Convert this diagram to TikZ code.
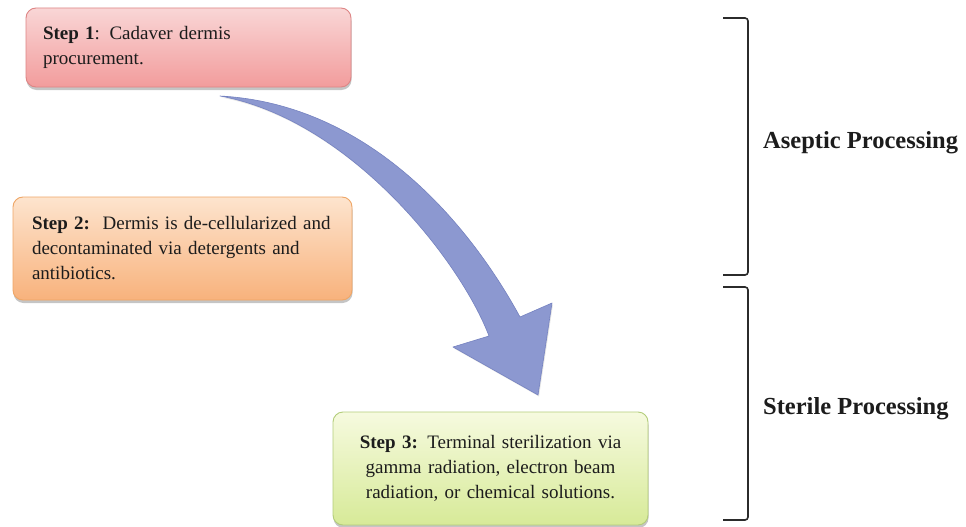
\documentclass[tikz,border=0pt]{standalone}
\usepackage{fontspec}
\setmainfont{Liberation Serif}
\usetikzlibrary{shadows}
\definecolor{pinkTop}{HTML}{F9D6D6}
\definecolor{pinkBot}{HTML}{F29C9C}
\definecolor{pinkEdge}{HTML}{DE8585}
\definecolor{orTop}{HTML}{FDE4CE}
\definecolor{orBot}{HTML}{F8B27C}
\definecolor{orEdge}{HTML}{EFA666}
\definecolor{grTop}{HTML}{F6FADF}
\definecolor{grBot}{HTML}{D7EA98}
\definecolor{grEdge}{HTML}{B3CD7A}
\definecolor{arrowBlue}{HTML}{8C98D0}
\definecolor{arrowEdge}{HTML}{7582C0}
\definecolor{inkDark}{HTML}{1C1C1C}
\definecolor{brackCol}{HTML}{2B2B2B}
\tikzset{
  stepbox/.style={draw, line width=0.9pt, rounded corners=10pt, inner xsep=17pt,
    inner ysep=4pt, text=inkDark, font=\fontsize{19}{25}\selectfont,
    drop shadow={shadow xshift=0.5pt, shadow yshift=-3pt, opacity=0.45}},
  phaselabel/.style={anchor=west, text=inkDark, inner sep=0pt,
    font=\fontsize{24.5}{28}\selectfont\bfseries},
  bracketline/.style={draw=brackCol, line width=1.6pt, rounded corners=3pt},
}
\begin{document}
\begin{tikzpicture}[x=1pt,y=-1pt]
\useasboundingbox (0,0) rectangle (966,527);
\fill[white] (0,0) rectangle (966,527);

% curved arrow
\coordinate (tail) at (220,96);
\coordinate (outerBase) at (520,317);
\coordinate (rightBarb) at (552,303);
\coordinate (tip) at (538,395);
\coordinate (leftBarb) at (453,347);
\coordinate (innerBase) at (489,336);
\path[fill=arrowBlue, draw=arrowEdge, line width=0.6pt, line join=round,
      drop shadow={shadow xshift=1pt, shadow yshift=-1.5pt, opacity=0.2}]
  (tail) .. controls (370,104) and (470,225) .. (outerBase)
  -- (rightBarb) -- (tip) -- (leftBarb) -- (innerBase)
  .. controls (460,260) and (350,120) .. (tail) -- cycle;

% step boxes
\node[stepbox, top color=pinkTop, bottom color=pinkBot, draw=pinkEdge,
      text width=291pt, minimum height=79pt, align=left] (s1) at (188.5,47.5)
  {\textbf{Step 1}: Cadaver dermis\\procurement.};
\node[stepbox, top color=orTop, bottom color=orBot, draw=orEdge,
      inner xsep=19pt, text width=301pt, minimum height=103pt, align=left] (s2) at (182.5,248.5)
  {\textbf{Step 2:}\ \ Dermis is de-cellularized and\\decontaminated via detergents and\\antibiotics.};
\node[stepbox, top color=grTop, bottom color=grBot, draw=grEdge,
      text width=281pt, minimum height=113pt, align=center] (s3) at (490.5,468.5)
  {\textbf{Step 3:} Terminal sterilization via\\gamma radiation, electron beam\\radiation, or chemical solutions.};

% brackets
\draw[bracketline] (723,18) -- (748,18) -- (748,275) -- (723,275);
\draw[bracketline] (723,287) -- (748,287) -- (748,520) -- (723,520);

% labels
\node[phaselabel] (aseptic) at (763,143) {Aseptic Processing};
\node[phaselabel] (sterile) at (763,409) {Sterile Processing};
\end{tikzpicture}
\end{document}
